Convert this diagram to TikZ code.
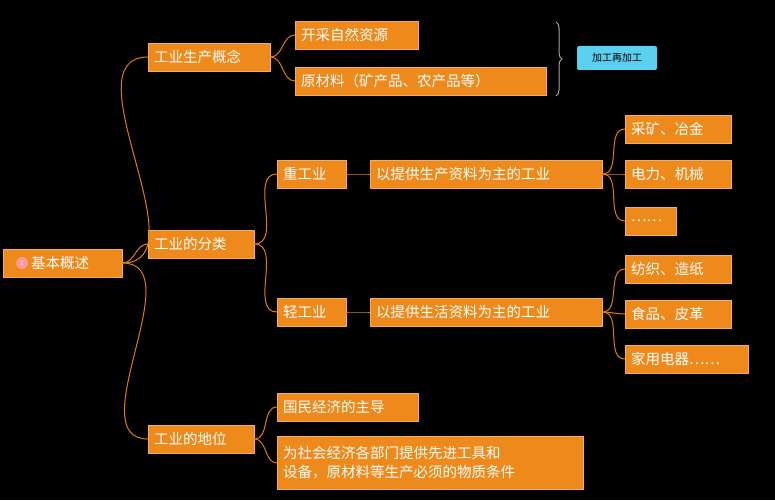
\documentclass[tikz,border=0pt]{standalone}
\usepackage{fontspec}
\newfontfamily\cjk{Noto Sans CJK SC}
\usetikzlibrary{positioning,decorations.pathreplacing}
\definecolor{topicorange}{HTML}{EE8A1C}
\definecolor{tagcyan}{HTML}{5BD0F0}
\definecolor{linkorange}{HTML}{E07A10}
\tikzset{topic/.style={shape=rectangle,fill=topicorange,draw=topicorange!70!white,
text=white,font=\cjk\fontsize{14.5}{19}\selectfont,minimum height=28pt,inner xsep=6pt,
anchor=west,align=left,text width=#1-12pt}}
\tikzstyle{link} =[draw=linkorange,line width=1pt]
\begin{document}
\begin{tikzpicture}[x=1pt,y=-1pt]
\useasboundingbox[fill=black] (0,0) rectangle (775,500);
% root
\node[topic=119pt] (root) at (3,263) {\hspace{22pt}基本概述};
\node[circle,fill=pink!80!red,inner sep=0pt,minimum size=12pt,text=white,
font=\sffamily\scriptsize] (num) at (22,263) {1};
% first level
\node[topic=122pt] (concept) at (148,57) {工业生产概念};
\node[topic=106pt] (types) at (148,244) {工业的分类};
\node[topic=106pt] (role) at (148,439) {工业的地位};
% concept
\node[topic=123pt] (mine) at (295,35) {开采自然资源};
\node[topic=251pt] (raw) at (295,81) {原材料（矿产品、农产品等）};
\draw[gray!70,line width=1pt,decorate,decoration={brace,amplitude=6pt}]
(556,22) coordinate (bt) -- (556,96) coordinate (bb);
\node[fill=tagcyan,text=black,font=\cjk\fontsize{10}{12}\selectfont,
minimum width=80pt,minimum height=24pt,rounded corners=2pt] (tag) at (617,58) {加工再加工};
% types
\node[topic=69pt] (heavy) at (277,174) {重工业};
\node[topic=232pt] (heavydef) at (370,174) {以提供生产资料为主的工业};
\node[topic=106pt] (h1) at (625,129) {采矿、冶金};
\node[topic=106pt] (h2) at (625,174) {电力、机械};
\node[topic=51pt] (h3) at (625,221) {……};
\node[topic=69pt] (light) at (277,312) {轻工业};
\node[topic=232pt] (lightdef) at (370,312) {以提供生活资料为主的工业};
\node[topic=106pt] (l1) at (625,269) {纺织、造纸};
\node[topic=106pt] (l2) at (625,314) {食品、皮革};
\node[topic=123pt] (l3) at (625,359) {家用电器……};
% role
\node[topic=141pt] (lead) at (277,407) {国民经济的主导};
\node[topic=306pt,minimum height=53pt] (base) at (277,463)
{为社会经济各部门提供先进工具和\\设备，原材料等生产必须的物质条件};
% connectors
\foreach \a/\b in {root/concept,root/types,root/role,concept/mine,concept/raw,
types/heavy,types/light,heavy/heavydef,light/lightdef,heavydef/h1,heavydef/h2,
heavydef/h3,lightdef/l1,lightdef/l2,lightdef/l3,role/lead,role/base}
\draw[link] (\a.east) to[out=0,in=180] (\b.west);
\end{tikzpicture}
\end{document}
